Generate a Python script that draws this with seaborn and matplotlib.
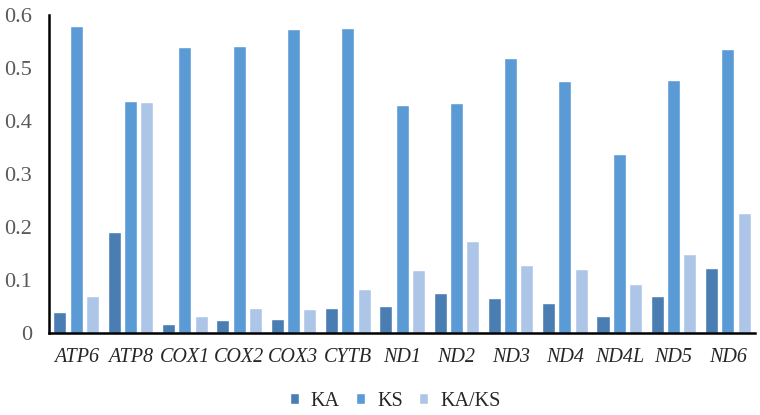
import pandas as pd
import matplotlib.pyplot as plt
import seaborn as sns

genes = ["ATP6", "ATP8", "COX1", "COX2", "COX3", "CYTB", "ND1",
         "ND2", "ND3", "ND4", "ND4L", "ND5", "ND6"]
ka = [0.040, 0.190, 0.017, 0.025, 0.026, 0.047, 0.051,
      0.076, 0.066, 0.057, 0.031, 0.069, 0.122]
ks = [0.580, 0.438, 0.540, 0.542, 0.573, 0.575, 0.430,
      0.433, 0.519, 0.475, 0.338, 0.477, 0.535]
ka_ks = [0.070, 0.435, 0.032, 0.047, 0.045, 0.082, 0.119,
         0.174, 0.128, 0.120, 0.092, 0.148, 0.227]

df = pd.DataFrame({"gene": genes, "KA": ka, "KS": ks, "KA/KS": ka_ks})
long = df.melt(id_vars="gene", var_name="series", value_name="value")

sns.set_style("white")
plt.rcParams['font.family'] = ['Liberation Serif', 'DejaVu Serif']

fig = plt.figure(figsize=(7.6, 4.15), dpi=100)
ax = fig.add_axes([0.0645, 0.198, 0.929, 0.766])

colors = ["#4a7eb2", "#5b9bd5", "#adc6e8"]
sns.barplot(data=long, x="gene", y="value", hue="series",
            palette=colors, width=0.9, gap=0.2, ax=ax,
            errorbar=None, saturation=1)

ax.set_xlim(-0.5, 12.5)
ax.set_ylim(0, 0.6)
ax.set_yticks([0, 0.1, 0.2, 0.3, 0.4, 0.5, 0.6])
ax.set_yticklabels(["0", "0.1", "0.2", "0.3", "0.4", "0.5", "0.6"])
ax.set_xlabel("")
ax.set_ylabel("")
ax.tick_params(axis="y", length=0, labelsize=16, labelcolor="#595959", pad=12)
ax.tick_params(axis="x", length=0, labelsize=14.5, pad=11)
for lab in ax.get_xticklabels():
    lab.set_fontstyle("italic")

for side in ["top", "right"]:
    ax.spines[side].set_visible(False)
for side in ["left", "bottom"]:
    ax.spines[side].set_color("black")
    ax.spines[side].set_linewidth(1.8)

ax.legend(loc="center", bbox_to_anchor=(0.49, -0.215), ncol=3,
          frameon=False, fontsize=14.5, handlelength=0.45, handleheight=0.45,
          columnspacing=0.8, handletextpad=0.6, borderpad=0.1)

fig.savefig("out.png", dpi=100)
